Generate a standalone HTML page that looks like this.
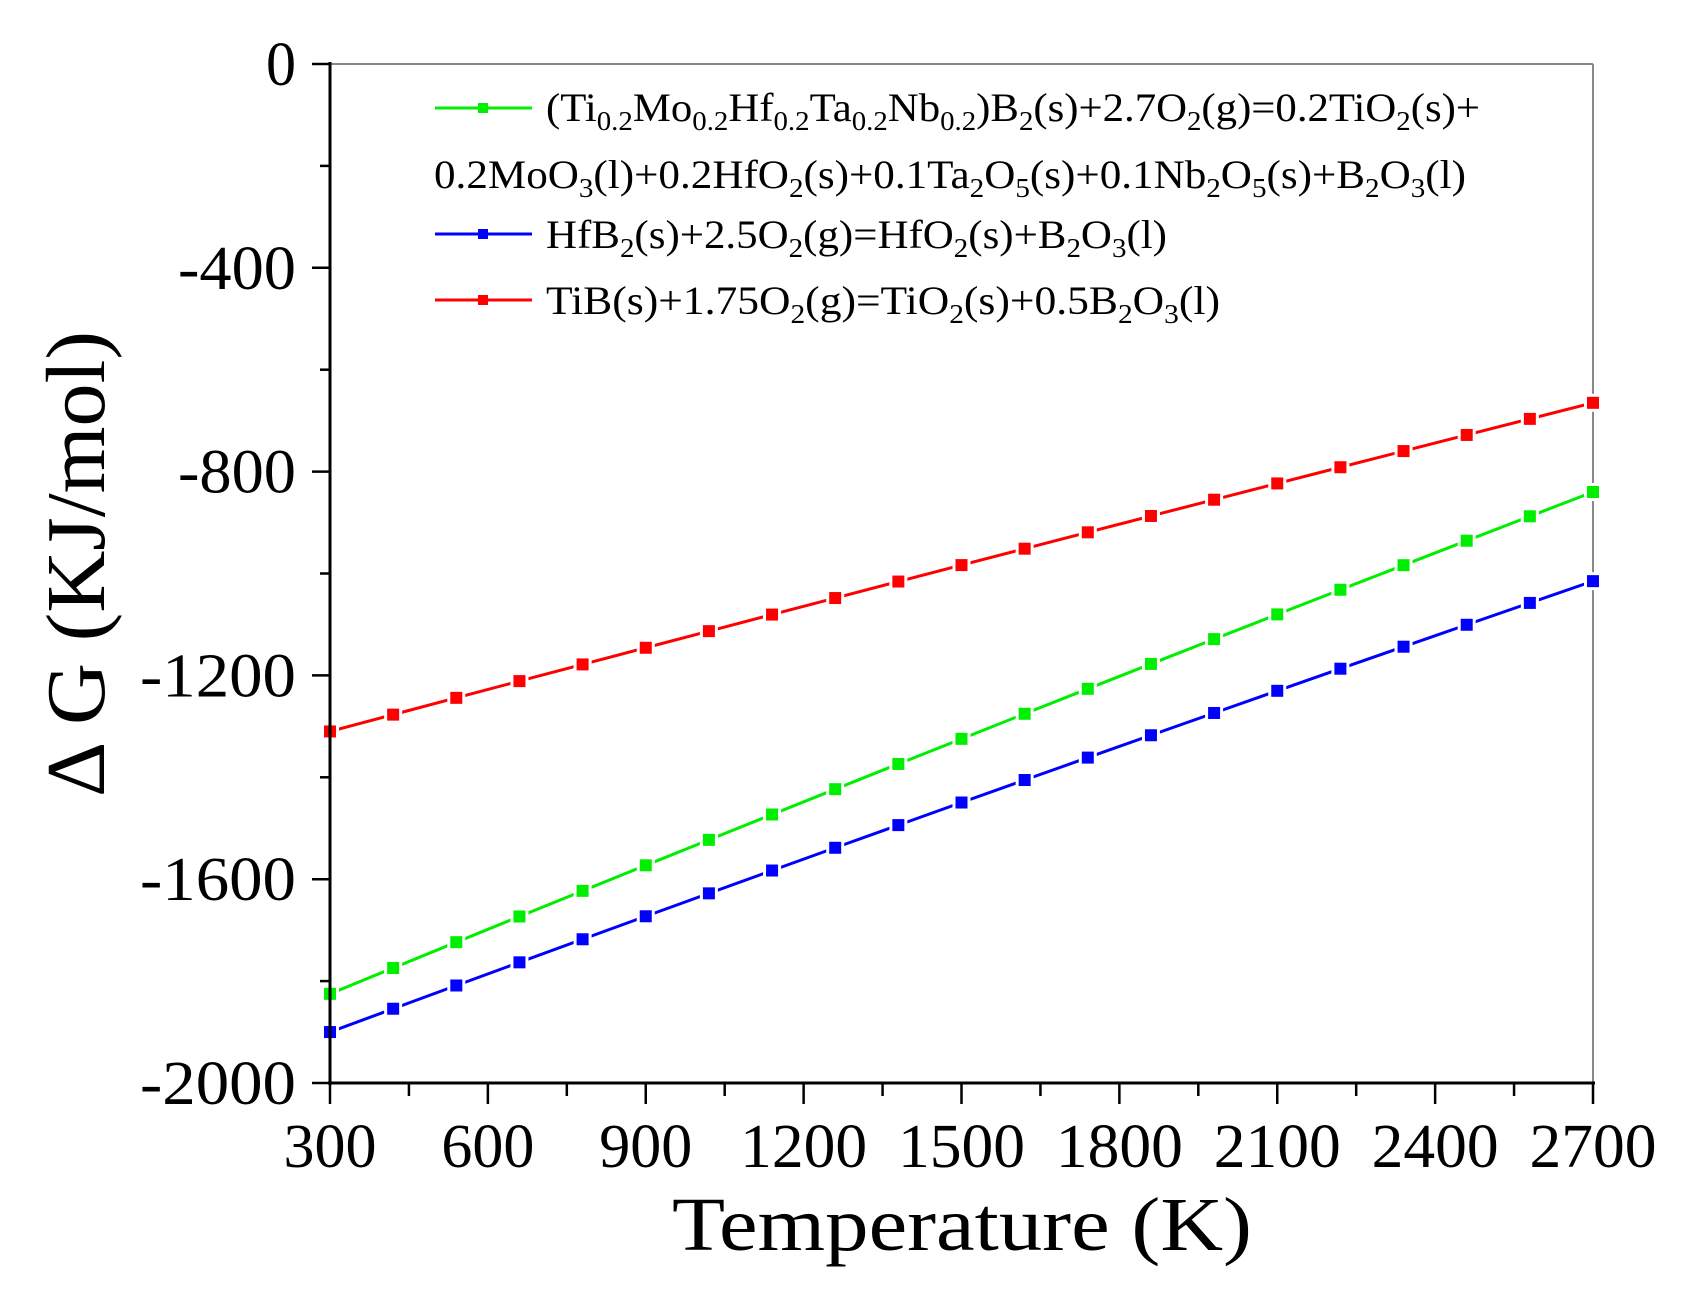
<!DOCTYPE html>
<html><head><meta charset="utf-8"><style>
html,body{margin:0;padding:0;background:#fff;}
svg{display:block;font-family:"Liberation Serif",serif;}
</style></head><body>
<svg id="s" width="1684" height="1295" viewBox="0 0 1684 1295" xmlns="http://www.w3.org/2000/svg">
<rect width="1684" height="1295" fill="#fff"/>
<line x1="330" y1="64" x2="1593" y2="64" stroke="#888" stroke-width="2"/>
<line x1="1593" y1="64" x2="1593" y2="1083" stroke="#888" stroke-width="2"/>
<g id="series"></g>
<line x1="330" y1="62" x2="330" y2="1085" stroke="#000" stroke-width="3"/>
<line x1="328" y1="1083" x2="1595" y2="1083" stroke="#000" stroke-width="3"/>
<g id="ticks" stroke="#000" stroke-width="2.5"></g>
<g font-size="62" text-anchor="end" id="ylab"></g>
<g font-size="62" text-anchor="middle" id="xlab"></g>
<text x="962" y="1250" font-size="76" text-anchor="middle" textLength="580" lengthAdjust="spacingAndGlyphs">Temperature (K)</text>
<text transform="translate(104,564) rotate(-90)" font-size="84" text-anchor="middle" textLength="466" lengthAdjust="spacingAndGlyphs">Δ G (KJ/mol)</text>
<g font-size="40">
<line x1="435" y1="108" x2="532" y2="108" stroke="#00ee00" stroke-width="3"/><rect x="478" y="103" width="10" height="10" fill="#00ee00"/>
<text x="546" y="121" textLength="934" lengthAdjust="spacingAndGlyphs">(Ti<tspan font-size="27" dy="9">0.2</tspan><tspan dy="-9">Mo</tspan><tspan font-size="27" dy="9">0.2</tspan><tspan dy="-9">Hf</tspan><tspan font-size="27" dy="9">0.2</tspan><tspan dy="-9">Ta</tspan><tspan font-size="27" dy="9">0.2</tspan><tspan dy="-9">Nb</tspan><tspan font-size="27" dy="9">0.2</tspan><tspan dy="-9">)B</tspan><tspan font-size="27" dy="9">2</tspan><tspan dy="-9">(s)+2.7O</tspan><tspan font-size="27" dy="9">2</tspan><tspan dy="-9">(g)=0.2TiO</tspan><tspan font-size="27" dy="9">2</tspan><tspan dy="-9">(s)+</tspan></text>
<text x="434" y="188" textLength="1032" lengthAdjust="spacingAndGlyphs">0.2MoO<tspan font-size="27" dy="9">3</tspan><tspan dy="-9">(l)+0.2HfO</tspan><tspan font-size="27" dy="9">2</tspan><tspan dy="-9">(s)+0.1Ta</tspan><tspan font-size="27" dy="9">2</tspan><tspan dy="-9">O</tspan><tspan font-size="27" dy="9">5</tspan><tspan dy="-9">(s)+0.1Nb</tspan><tspan font-size="27" dy="9">2</tspan><tspan dy="-9">O</tspan><tspan font-size="27" dy="9">5</tspan><tspan dy="-9">(s)+B</tspan><tspan font-size="27" dy="9">2</tspan><tspan dy="-9">O</tspan><tspan font-size="27" dy="9">3</tspan><tspan dy="-9">(l)</tspan></text>
<line x1="435" y1="234" x2="532" y2="234" stroke="#0000ff" stroke-width="3"/><rect x="478" y="229" width="10" height="10" fill="#0000ff"/>
<text x="546" y="248" textLength="621" lengthAdjust="spacingAndGlyphs">HfB<tspan font-size="27" dy="9">2</tspan><tspan dy="-9">(s)+2.5O</tspan><tspan font-size="27" dy="9">2</tspan><tspan dy="-9">(g)=HfO</tspan><tspan font-size="27" dy="9">2</tspan><tspan dy="-9">(s)+B</tspan><tspan font-size="27" dy="9">2</tspan><tspan dy="-9">O</tspan><tspan font-size="27" dy="9">3</tspan><tspan dy="-9">(l)</tspan></text>
<line x1="435" y1="300" x2="532" y2="300" stroke="#ff0000" stroke-width="3"/><rect x="478" y="295" width="10" height="10" fill="#ff0000"/>
<text x="546" y="314" textLength="674" lengthAdjust="spacingAndGlyphs">TiB(s)+1.75O<tspan font-size="27" dy="9">2</tspan><tspan dy="-9">(g)=TiO</tspan><tspan font-size="27" dy="9">2</tspan><tspan dy="-9">(s)+0.5B</tspan><tspan font-size="27" dy="9">2</tspan><tspan dy="-9">O</tspan><tspan font-size="27" dy="9">3</tspan><tspan dy="-9">(l)</tspan></text>
</g>
</svg>
<script>
var NS="http://www.w3.org/2000/svg";
function el(p,t,a,txt){var e=document.createElementNS(NS,t);for(var k in a)e.setAttribute(k,a[k]);if(txt!==undefined)e.textContent=txt;p.appendChild(e);return e;}
function X(t){return 330+(t-300)/2400*1263;}
function Y(v){return 64-v/2000*1019;}
var tk=document.getElementById('ticks'),yl=document.getElementById('ylab'),xl=document.getElementById('xlab');
for(var v=0;v>=-2000;v-=200){var maj=(v%400===0);el(tk,'line',{x1:330,x2:maj?312:320,y1:Y(v),y2:Y(v)});
 if(maj){var s=String(v===0?0:v);var w={1:30,4:118,5:156}[s.length];el(yl,'text',{x:296,y:Y(v)+21,textLength:w,lengthAdjust:'spacingAndGlyphs'},s);}}
for(var t=300;t<=2700;t+=150){var maj=((t-300)%300===0);el(tk,'line',{x1:X(t),x2:X(t),y1:1083,y2:maj?1104:1096});
 if(maj){var s=String(t);el(xl,'text',{x:X(t),y:1167,textLength:s.length===3?93:127,lengthAdjust:'spacingAndGlyphs'},s);}}
var S=[["#ff0000",-1310,-665,-4],["#00ee00",-1825,-840,-8],["#0000ff",-1900,-1015,-8]];
var g=document.getElementById('series');
S.forEach(function(s){
 var pts=[];for(var i=0;i<=20;i++){var f=i/20;var v=s[1]+(s[2]-s[1])*f+s[3]*4*f*(1-f)*-1;pts.push([X(300+120*i),Y(v)]);}
 el(g,'polyline',{points:pts.map(function(p){return p.join(',')}).join(' '),fill:'none',stroke:s[0],'stroke-width':3});
 pts.forEach(function(p){el(g,'rect',{x:p[0]-9,y:p[1]-9,width:18,height:18,fill:'#fff'});el(g,'rect',{x:p[0]-6,y:p[1]-6,width:12,height:12,fill:s[0]});});
});
</script>
</body></html>
